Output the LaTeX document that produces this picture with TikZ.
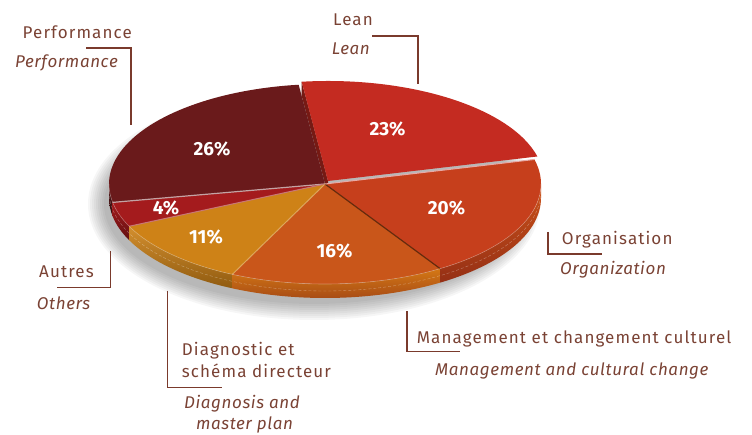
\documentclass[tikz,border=0pt]{standalone}
\usepackage{fontspec}
\setmainfont{Fira Sans}
\newfontfamily\lblfont[LetterSpace=6.5]{Fira Sans}
\newfontfamily\lblifont[LetterSpace=3.5]{Fira Sans}
\usepackage{tikz}
\usetikzlibrary{calc}
\definecolor{txtbrown}{HTML}{7A4234}
\definecolor{linebrown}{HTML}{7A3A2C}
\definecolor{perfc}{HTML}{6A1A1B}
\definecolor{leanc}{HTML}{C42B21}
\definecolor{orgc}{HTML}{C63F1C}
\definecolor{mgmtc}{HTML}{C9561A}
\definecolor{diagc}{HTML}{CE8217}
\definecolor{autrc}{HTML}{A41B1D}
\tikzset{
    lbl/.style = {font=\lblfont\fontsize{17}{20}\selectfont, text=txtbrown, inner sep=0pt},
    lbli/.style = {font=\lblifont\fontsize{17}{20}\selectfont\itshape, text=txtbrown, inner sep=0pt},
    pct/.style = {font=\fontsize{19}{22}\selectfont\bfseries, text=white},
    leader/.style = {draw=linebrown, line width=1.3pt},
    ell/.style = {x radius=216, y radius=100},
}
\begin{document}
\begin{tikzpicture}[x=1pt, y=1pt]
\useasboundingbox (0,0) rectangle (752,434);
\coordinate (c) at (325,250);
\coordinate (cl) at (328,253);
% shadow
\foreach \k in {0,...,8}
    \fill[black, opacity=0.035] (314,230) ellipse[x radius=210+2*\k, y radius=100+2*\k];
% rims
\shade[top color=perfc!80!black, bottom color=perfc!50!black] ($(c)+(180:216 and 100)$) arc[ell, start angle=180, end angle=190.6] -- ++(0,-14) arc[ell, start angle=190.6, end angle=180] -- cycle;
\shade[top color=autrc, bottom color=autrc!60!black] ($(c)+(190.6:216 and 100)$) arc[ell, start angle=190.6, end angle=205] -- ++(0,-14) arc[ell, start angle=205, end angle=190.6] -- cycle;
\shade[top color=diagc!90!white, bottom color=diagc!70!black] ($(c)+(205:216 and 100)$) arc[ell, start angle=205, end angle=244.6] -- ++(0,-14) arc[ell, start angle=244.6, end angle=205] -- cycle;
\shade[top color=mgmtc!80!yellow, bottom color=mgmtc!80!black] ($(c)+(244.6:216 and 100)$) arc[ell, start angle=244.6, end angle=302.2] -- ++(0,-14) arc[ell, start angle=302.2, end angle=244.6] -- cycle;
\shade[top color=orgc!90!yellow, bottom color=orgc!75!black] ($(c)+(302.2:216 and 100)$) arc[ell, start angle=302.2, end angle=360] -- ++(0,-14) arc[ell, start angle=360, end angle=302.2] -- cycle;
\draw[white, opacity=0.35, densely dashed, line width=0.4pt] ($(c)+(180:216 and 100)+(0,-7)$) arc[ell, start angle=180, end angle=360];
% cut face of lean
\fill[leanc!60!black] (cl) -- ($(cl)+(97:216 and 100)$) -- ++(0,-14) -- ($(cl)+(0,-14)$) -- cycle;
% tops
\fill[perfc] (c) -- ($(c)+(97:216 and 100)$) arc[ell, start angle=97, end angle=190.6] -- cycle;
\fill[autrc] (c) -- ($(c)+(190.6:216 and 100)$) arc[ell, start angle=190.6, end angle=205] -- cycle;
\fill[diagc] (c) -- ($(c)+(205:216 and 100)$) arc[ell, start angle=205, end angle=244.6] -- cycle;
\fill[mgmtc] (c) -- ($(c)+(244.6:216 and 100)$) arc[ell, start angle=244.6, end angle=302.2] -- cycle;
\fill[orgc] (c) -- ($(c)+(302.2:216 and 100)$) arc[ell, start angle=302.2, end angle=374.2] -- cycle;
\fill[leanc] (cl) -- ($(cl)+(14.2:216 and 100)$) arc[ell, start angle=14.2, end angle=97] -- cycle;
% separators
\draw[line width=1.2pt, color=perfc!40!white] (c) -- ($(c)+(190.6:216 and 100)$);
\draw[line width=1pt, color=autrc!60!white] (c) -- ($(c)+(205:216 and 100)$);
\draw[line width=1pt, color=diagc!70!white] (c) -- ($(c)+(244.6:216 and 100)$);
\draw[line width=1.2pt, color=mgmtc!50!black] (c) -- ($(c)+(302.2:216 and 100)$);
\draw[line width=1pt, color=leanc!40!white] (c) -- ($(c)+(14.2:216 and 100)$);
\draw[white, opacity=0.3, line width=0.6pt] ($(c)+(180:216 and 100)$) arc[ell, start angle=180, end angle=360];
% percentages
\node[pct] (p26) at (212,285) {26\%};
\node[pct] (p23) at (387.5,305) {23\%};
\node[pct] (p20) at (446.5,226) {20\%};
\node[pct] (p4) at (166,226) {4\%};
\node[pct] (p11) at (206,197) {11\%};
\node[pct] (p16) at (334.5,183) {16\%};
% labels
\node[lbl, anchor=base east] (perffr) at (132,395) {Performance};
\node[lbli, anchor=base east] (perfen) at (118,366) {Performance};
\node[lbl, anchor=base east] (leanfr) at (373,408) {Lean};
\node[lbli, anchor=base east] (leanen) at (370,379) {Lean};
\node[lbl, anchor=base west] (orgfr) at (561.7,189.7) {Organisation};
\node[lbli, anchor=base west] (orgen) at (560,159) {Organization};
\node[lbl, anchor=base west] (mgmtfr) at (416.7,90.7) {Management et changement culturel};
\node[lbli, anchor=base west] (mgmten) at (435,59) {Management and cultural change};
\node[lbl, anchor=base west] (autrfr) at (39,156.7) {Autres};
\node[lbli, anchor=base west] (autren) at (36.7,124.7) {Others};
\node[lbl, anchor=base west] (diagfr) at (181.7,79) {Diagnostic et};
\node[lbl, anchor=base west] (diagfrb) at (181.7,56.3) {schéma directeur};
\node[lbli, anchor=base] (diagen) at (242,26) {Diagnosis and};
\node[lbli, anchor=base] (diagenb) at (244.5,5) {master plan};
% leaders
\coordinate (perf1) at (86,386);
\coordinate (perf2) at (131,386);
\coordinate (perf3) at (131,309);
\draw[leader] (perf1) -- (perf2) -- (perf3);
\coordinate (lean1) at (372,398);
\coordinate (lean2) at (418,398);
\coordinate (lean3) at (418,350);
\draw[leader] (lean1) -- (lean2) -- (lean3);
\coordinate (org1) at (548,202);
\coordinate (org2) at (548,180);
\coordinate (org3) at (602,180);
\draw[leader] (org1) -- (org2) -- (org3);
\coordinate (mgmt1) at (407,123);
\coordinate (mgmt2) at (407,82.3);
\coordinate (mgmt3) at (460,82.3);
\draw[leader] (mgmt1) -- (mgmt2) -- (mgmt3);
\coordinate (autr1) at (110.7,183);
\coordinate (autr2) at (110.7,146.7);
\coordinate (autr3) at (57,146.7);
\draw[leader] (autr1) -- (autr2) -- (autr3);
\coordinate (diag1) at (167.7,143.3);
\coordinate (diag2) at (167.7,46.7);
\coordinate (diag3) at (221.7,46.7);
\draw[leader] (diag1) -- (diag2) -- (diag3);
\end{tikzpicture}
\end{document}
